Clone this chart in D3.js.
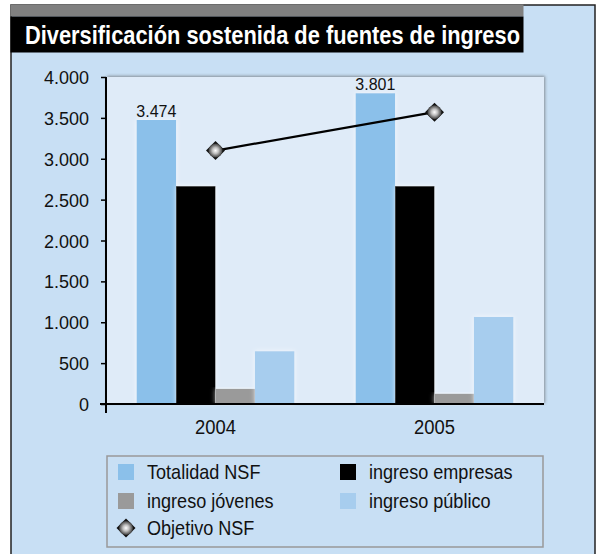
<!DOCTYPE html>
<html lang="es">
<head>
<meta charset="UTF-8">
<title>Diversificación sostenida de fuentes de ingreso</title>
<script src="https://d3js.org/d3.v7.min.js"></script>
<style>
  body { margin: 0; background: #fff; }
  svg text { font-family: "Liberation Sans", Arial, Helvetica, sans-serif; }
</style>
</head>
<body>
<svg width="601" height="554"></svg>
<script>
    const years = ["2004", "2005"];
    const series = ["Totalidad NSF", "ingreso empresas", "ingreso jóvenes", "ingreso público"];
    const totalidad = [3474, 3801];
    const empresas = [2665, 2665];
    const jovenes = [185, 125];
    const publico = [645, 1065];
    const objetivo = [3100, 3570];
    const yTicks = [0, 500, 1000, 1500, 2000, 2500, 3000, 3500, 4000];
    const colors = ["#8bc0ea", "#000000", "#9a9a9a", "#a7cdee"];

    const width = 601;
    const height = 554;
    const margin = {top: 77, right: 57, bottom: 150, left: 106};
    const innerWidth = width - margin.left - margin.right;
    const innerHeight = height - margin.top - margin.bottom;

    const svg = d3.select('svg')
        .attr('width', width)
        .attr('height', height);

    // squeeze a text to look like a condensed face
    function condense(sel, k) {
        sel.each(function() {
            const w = this.getComputedTextLength();
            d3.select(this).attr('textLength', w * k).attr('lengthAdjust', 'spacingAndGlyphs');
        });
    }

    const defs = svg.append('defs');
    const shadow = defs.append('filter').attr('id', 'shadow')
        .attr('x', '-5%').attr('y', '-5%').attr('width', '110%').attr('height', '110%');
    shadow.append('feDropShadow').attr('dx', 1).attr('dy', -1)
        .attr('stdDeviation', 1.5).attr('flood-color', '#555').attr('flood-opacity', 0.6);
    const glow = defs.append('filter').attr('id', 'glow')
        .attr('x', '-20%').attr('y', '-10%').attr('width', '140%').attr('height', '120%');
    glow.append('feDropShadow').attr('dx', 0).attr('dy', 0)
        .attr('stdDeviation', 2.5).attr('flood-color', '#ffffff').attr('flood-opacity', 0.7);
    const grad = defs.append('radialGradient').attr('id', 'ball');
    grad.append('stop').attr('offset', '0%').attr('stop-color', '#ffffff');
    grad.append('stop').attr('offset', '45%').attr('stop-color', '#bdbdbd');
    grad.append('stop').attr('offset', '100%').attr('stop-color', '#3a3a3a');

    // outer panel
    svg.append('path')
        .attr('d', 'M11,554V5H595V554')
        .attr('fill', '#c8dff4').attr('stroke', '#222').attr('stroke-width', 1.5);
    svg.append('rect')
        .attr('x', 10.5).attr('y', 4.5).attr('width', 513).attr('height', 12)
        .attr('fill', '#808080');
    svg.append('rect')
        .attr('x', 10.5).attr('y', 16.5).attr('width', 513).attr('height', 36)
        .attr('fill', '#000');
    svg.append('text')
        .attr('x', 25).attr('y', 44)
        .attr('fill', '#fff')
        .style('font-size', '26px').style('font-weight', 'bold')
        .attr('textLength', 495).attr('lengthAdjust', 'spacingAndGlyphs')
        .text('Diversificación sostenida de fuentes de ingreso');

    const g = svg.append('g')
        .attr('transform', `translate(${margin.left},${margin.top})`);

    // plot background
    g.append('rect')
        .attr('width', innerWidth).attr('height', innerHeight)
        .attr('fill', '#dfebf8')
        .attr('filter', 'url(#shadow)');

    const x0 = d3.scaleBand()
        .domain(years)
        .range([0, innerWidth])
        .paddingInner(0.28)
        .paddingOuter(0.14);
    const x1 = d3.scaleBand()
        .domain(series)
        .range([0, x0.bandwidth()]);
    const xc = d3.scaleBand().domain(years).range([0, innerWidth]);
    const y = d3.scaleLinear()
        .domain([0, 4000])
        .range([innerHeight, 0]);

    const values = [totalidad, empresas, jovenes, publico];
    const barData = [];
    years.forEach(function(yr, i) {
        series.forEach(function(s, j) {
            barData.push({year: yr, serie: s, value: values[j][i], color: colors[j]});
        });
    });

    g.selectAll('.bar')
        .data(barData)
        .enter().append('rect')
        .attr('class', 'bar')
        .attr('x', d => x0(d.year) + x1(d.serie))
        .attr('y', d => y(d.value))
        .attr('width', x1.bandwidth())
        .attr('height', d => innerHeight - y(d.value))
        .attr('fill', d => d.color)
        .attr('filter', 'url(#glow)');

    // value labels on Totalidad NSF
    const fmt = d3.formatLocale({decimal: ",", thousands: ".", grouping: [3], currency: ["", "€"]}).format(",d");
    g.selectAll('.vlabel')
        .data(years)
        .enter().append('text')
        .attr('class', 'vlabel')
        .attr('x', (d, i) => x0(d) + x1(series[0]) + x1.bandwidth() / 2)
        .attr('y', (d, i) => y(totalidad[i]) - 3)
        .attr('text-anchor', 'middle')
        .style('font-size', '16px')
        .attr('fill', '#111')
        .text((d, i) => fmt(totalidad[i]));

    // axes
    const yAxis = d3.axisLeft(y)
        .tickValues(yTicks)
        .tickSize(5)
        .tickPadding(12)
        .tickFormat(fmt);
    const ya = g.append('g').call(yAxis);
    ya.attr('font-family', null).attr('font-size', null);
    ya.select('.domain').attr('d', `M0,0V${innerHeight + 9}`).attr('stroke', '#000').attr('stroke-width', 2);
    ya.selectAll('.tick line').attr('stroke', '#000').attr('stroke-width', 1.5);
    ya.selectAll('.tick text').style('font-size', '18px').attr('fill', '#111')
        .attr('dy', null).attr('y', 6.5);

    const xAxis = d3.axisBottom(xc).tickSize(0).tickPadding(16);
    const xa = g.append('g').attr('transform', `translate(0,${innerHeight})`).call(xAxis);
    xa.attr('font-family', null).attr('font-size', null);
    xa.select('.domain').attr('d', `M-6,0H${innerWidth}`).attr('stroke', '#000').attr('stroke-width', 2);
    xa.selectAll('.tick text')
        .style('font-size', '20px').attr('fill', '#111')
        .attr('dy', null).attr('y', 30)
        .call(condense, 0.92);

    // Objetivo NSF line
    const linePts = years.map((d, i) => [x0(d) + x0.bandwidth() / 2, y(objetivo[i])]);
    g.append('path')
        .attr('d', d3.line()(linePts))
        .attr('fill', 'none')
        .attr('stroke', '#000')
        .attr('stroke-width', 2.2);

    function marker(sel, cx, cy) {
        sel.append('path')
            .attr('d', `M${cx},${cy - 9.5}L${cx + 9.5},${cy}L${cx},${cy + 9.5}L${cx - 9.5},${cy}Z`)
            .attr('fill', '#111');
        sel.append('circle')
            .attr('cx', cx).attr('cy', cy).attr('r', 7)
            .attr('fill', 'url(#ball)');
    }
    linePts.forEach(p => marker(g, p[0], p[1]));

    // legend
    const legend = svg.append('g');
    legend.append('rect')
        .attr('x', 107).attr('y', 456).attr('width', 436).attr('height', 91)
        .attr('fill', '#c8dff4').attr('stroke', '#999').attr('stroke-width', 1.5);
    const legendPos = [[118, 472], [340, 472], [118, 501], [340, 501]];
    series.forEach(function(s, i) {
        const p = legendPos[i];
        legend.append('rect')
            .attr('x', p[0]).attr('y', p[1] - 8).attr('width', 16).attr('height', 16)
            .attr('fill', colors[i]);
        legend.append('text')
            .attr('class', 'ltext')
            .attr('x', p[0] + 29).attr('y', p[1] + 7)
            .style('font-size', '21px').attr('fill', '#111')
            .text(s);
    });
    marker(legend, 126, 528);
    legend.append('text')
        .attr('class', 'ltext')
        .attr('x', 147).attr('y', 535)
        .style('font-size', '21px').attr('fill', '#111')
        .text('Objetivo NSF');
    legend.selectAll('.ltext').call(condense, 0.86);
</script>
</body>
</html>
